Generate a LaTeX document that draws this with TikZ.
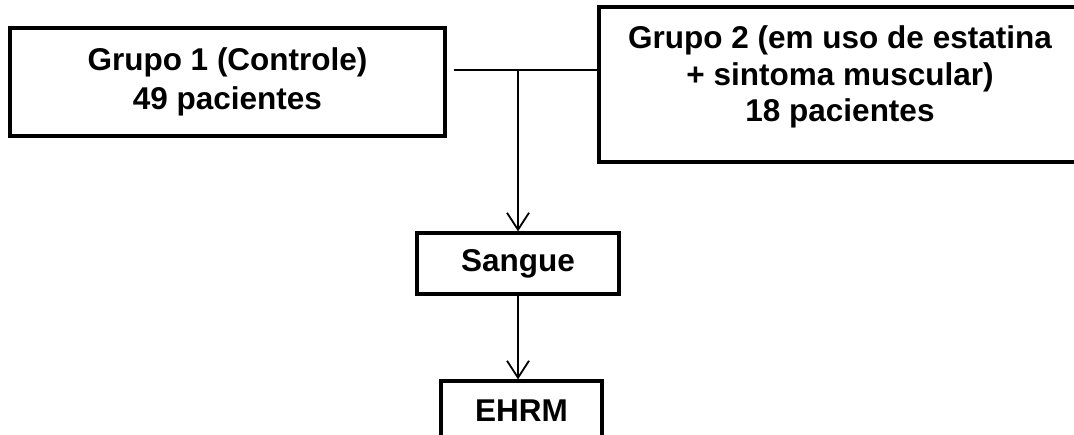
\documentclass[tikz,border=0pt]{standalone}
\usepackage{fontspec}
\setmainfont{Liberation Sans}
\usetikzlibrary{arrows.meta}
\tikzset{
  box/.style={draw=black, line width=3.2pt, fill=none, inner sep=0pt, align=center,
    font=\bfseries\fontsize{31.5}{39}\selectfont},
  boxtext/.style={inner sep=0pt, align=center, font=\bfseries\fontsize{31.5}{36.5}\selectfont},
  conn/.style={draw=black, line width=1.8pt},
  arr/.style={conn, -{Straight Barb[length=17pt,width=22pt,line width=1.8pt]}}
}
\begin{document}
\begin{tikzpicture}[x=1pt,y=-1pt]
\clip (0,0) rectangle (1074,434);
\fill[white] (0,0) rectangle (1074,434);
\node[box, minimum width=435pt, minimum height=108pt] (g1) at (227.5,82) {Grupo 1 (Controle)\\49 pacientes};
\node[box, minimum width=491pt, minimum height=155pt] (g2) at (844.5,84.5) {};
\node[boxtext] (g2t) at (840,77.3) {Grupo 2 (em uso de estatina\\+ sintoma muscular)\\18 pacientes};
\node[box, minimum width=202pt, minimum height=61pt] (sangue) at (518,263.5) {Sangue};
\node[box, minimum width=161pt, minimum height=59.4pt] (ehrm) at (521.5,410.7) {EHRM};
\coordinate (j1) at (454,70);
\coordinate (j2) at (518,70);
\draw[conn] (j1) -- (j1 -| g2.west);
\draw[arr] (j2) -- (sangue.north);
\draw[arr] (sangue.south) -- (sangue.south |- ehrm.north);
\end{tikzpicture}
\end{document}
